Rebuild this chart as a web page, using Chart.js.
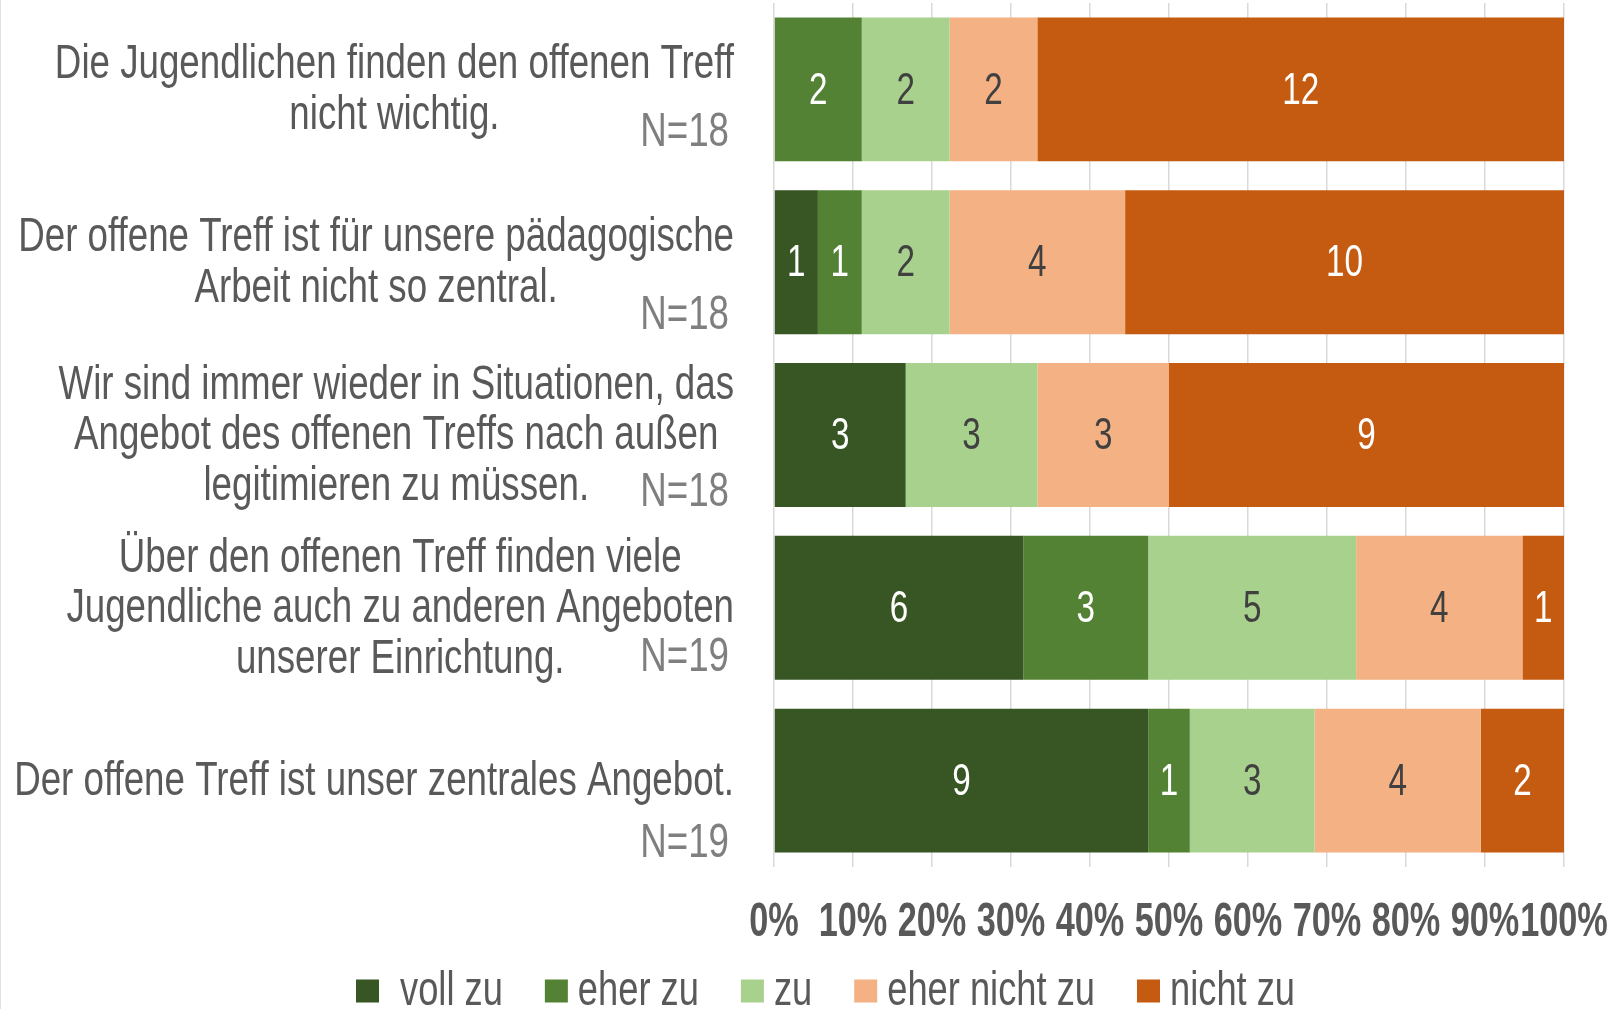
<!DOCTYPE html>
<html>
<head>
<meta charset="utf-8">
<script src="https://cdn.jsdelivr.net/npm/chart.js@4.4.1/dist/chart.umd.min.js"></script>
<style>
  html, body { margin: 0; padding: 0; background: #ffffff; overflow: hidden; }
  #wrap { width: 1613px; height: 1009px; box-sizing: border-box; border-left: 1px solid #e2e2e2; }
  canvas { display: block; }
</style>
</head>
<body>
<div id="wrap"><canvas id="c" width="1612" height="1009"></canvas></div>
<script>
// ---------- data ----------
const categoryLines = [
  ['Die Jugendlichen finden den offenen Treff', 'nicht wichtig.'],
  ['Der offene Treff ist für unsere pädagogische', 'Arbeit nicht so zentral.'],
  ['Wir sind immer wieder in Situationen, das', 'Angebot des offenen Treffs nach außen', 'legitimieren zu müssen.'],
  ['Über den offenen Treff finden viele', 'Jugendliche auch zu anderen Angeboten', 'unserer Einrichtung.'],
  ['Der offene Treff ist unser zentrales Angebot.']
];
const sampleSizes = ['N=18', 'N=18', 'N=18', 'N=19', 'N=19'];
const seriesNames = ['voll zu', 'eher zu', 'zu', 'eher nicht zu', 'nicht zu'];
const vollZu      = [0, 1, 3, 6, 9];
const eherZu      = [2, 1, 0, 3, 1];
const zu          = [2, 2, 3, 5, 3];
const eherNichtZu = [2, 4, 3, 4, 4];
const nichtZu     = [12, 10, 9, 1, 2];
const xTickValues = [0, 10, 20, 30, 40, 50, 60, 70, 80, 90, 100];
const xTickLabels = ['0%', '10%', '20%', '30%', '40%', '50%', '60%', '70%', '80%', '90%', '100%'];

// ---------- styles ----------
const seriesColors = ['#375623', '#548235', '#A9D18E', '#F4B183', '#C55A11'];
const valueLabelColors = ['#ffffff', '#ffffff', '#404040', '#404040', '#ffffff'];
const FONT = "'Liberation Sans', Arial, sans-serif";
const TEXT_SQUEEZE = 0.765;   // narrow-font look
const LEGEND_SQUEEZE = 0.756;
const VALUE_SQUEEZE = 0.756;
const TICK_SQUEEZE = 0.70;
const nLabelOffsets = [43, 54, 58, 50, 63];
const legendTextGaps = [21, 10, 10, 10, 10];

const seriesCounts = [vollZu, eherZu, zu, eherNichtZu, nichtZu];
const totals = vollZu.map((_, i) => seriesCounts.reduce((s, arr) => s + arr[i], 0));

const datasets = seriesNames.map((name, k) => ({
  label: name,
  data: seriesCounts[k].map((v, i) => v / totals[i] * 100),
  counts: seriesCounts[k],
  backgroundColor: seriesColors[k],
  borderWidth: 0,
  barPercentage: 0.833,
  categoryPercentage: 1.0
}));

function squeezedText(ctx, text, x, y, align, squeeze) {
  ctx.save();
  ctx.translate(x, y);
  ctx.scale(squeeze, 1);
  ctx.textAlign = align;
  ctx.fillText(text, 0, 0);
  ctx.restore();
}

const labelsPlugin = {
  id: 'customLabels',
  afterDatasetsDraw(chart) {
    const ctx = chart.ctx;
    ctx.save();
    ctx.textBaseline = 'middle';
    ctx.font = '44px ' + FONT;
    chart.data.datasets.forEach((ds, k) => {
      const meta = chart.getDatasetMeta(k);
      meta.data.forEach((el, i) => {
        const v = ds.counts[i];
        if (!v) return;
        ctx.fillStyle = valueLabelColors[k];
        squeezedText(ctx, String(v), (el.x + el.base) / 2, el.y + 2, 'center', VALUE_SQUEEZE);
      });
    });
    ctx.restore();
  },
  afterDraw(chart) {
    const ctx = chart.ctx;
    const yScale = chart.scales.y;
    const xScale = chart.scales.x;
    const area = chart.chartArea;
    ctx.save();
    ctx.textBaseline = 'middle';

    // x tick labels
    ctx.font = 'bold 49px ' + FONT;
    ctx.fillStyle = '#595959';
    xTickValues.forEach((v, i) => {
      squeezedText(ctx, xTickLabels[i], xScale.getPixelForValue(v), area.bottom + 55, 'center', TICK_SQUEEZE);
    });

    // category labels
    ctx.font = '48px ' + FONT;
    const blockRight = 733;
    const lh = 50.5;
    categoryLines.forEach((lines, i) => {
      const yc = yScale.getPixelForValue(i);
      const bw = Math.max(...lines.map(l => ctx.measureText(l).width)) * TEXT_SQUEEZE;
      const cx = blockRight - bw / 2;
      const start = yc + 1 - (lines.length - 1) * lh / 2;
      ctx.fillStyle = '#595959';
      lines.forEach((l, j) => squeezedText(ctx, l, cx, start + j * lh, 'center', TEXT_SQUEEZE));
      ctx.fillStyle = '#7f7f7f';
      squeezedText(ctx, sampleSizes[i], 728, yc + nLabelOffsets[i], 'right', TEXT_SQUEEZE);
    });

    // legend
    const box = 23, gapItem = 42, ly = 991;
    let x = 355;
    seriesNames.forEach((n, k) => {
      ctx.fillStyle = seriesColors[k];
      ctx.fillRect(x, ly - box / 2, box, box);
      ctx.fillStyle = '#595959';
      const tx = x + box + legendTextGaps[k];
      squeezedText(ctx, n, tx, ly + 1, 'left', LEGEND_SQUEEZE);
      x = tx + ctx.measureText(n).width * LEGEND_SQUEEZE + gapItem;
    });
    ctx.restore();
  }
};

new Chart(document.getElementById('c'), {
  type: 'bar',
  data: {
    labels: categoryLines.map(l => l.join(' ')),
    datasets
  },
  options: {
    indexAxis: 'y',
    responsive: false,
    animation: false,
    devicePixelRatio: 1,
    layout: { padding: { top: 3, right: 49, bottom: 64, left: 0 } },
    plugins: {
      legend: { display: false },
      tooltip: { enabled: false },
      title: { display: false }
    },
    scales: {
      x: {
        stacked: true,
        min: 0,
        max: 100,
        grid: { color: '#d9d9d9', lineWidth: 1.5, drawTicks: false },
        border: { display: false },
        ticks: { display: false, stepSize: 10 },
        afterFit(scale) { scale.height = 78; }
      },
      y: {
        stacked: true,
        grid: { display: false },
        border: { display: false },
        ticks: { display: false },
        afterFit(scale) { scale.width = 773; }
      }
    }
  },
  plugins: [labelsPlugin]
});
</script>
</body>
</html>
